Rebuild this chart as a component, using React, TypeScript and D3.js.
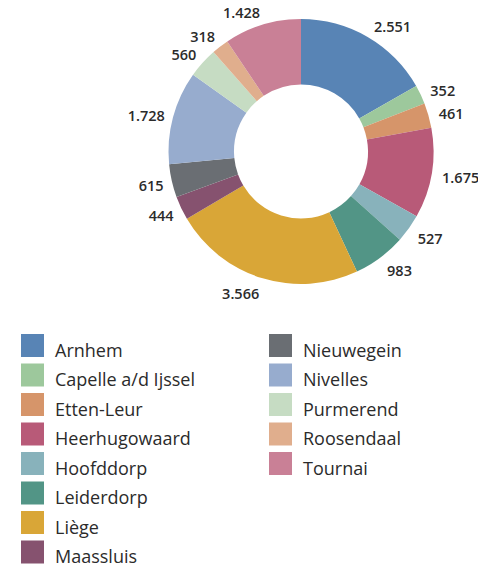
import React from 'react';
import * as d3 from 'd3';

const categories = [
  'Arnhem', 'Capelle a/d Ijssel', 'Etten-Leur', 'Heerhugowaard', 'Hoofddorp', 'Leiderdorp',
  'Liège', 'Maassluis', 'Nieuwegein', 'Nivelles', 'Purmerend', 'Roosendaal', 'Tournai',
];
const values = [2551, 352, 461, 1675, 527, 983, 3566, 444, 615, 1728, 560, 318, 1428];
const colors = [
  '#5884b5', '#9dc89c', '#d6956a', '#b85a78', '#88b2bb', '#529586',
  '#d9a637', '#86526f', '#6a6e73', '#97acce', '#c6dcc3', '#e0ae8d', '#c98096',
];

const W = 478;
const H = 565;
const cx = 301;
const cy = 151.5;
const outerR = 132.5;
const innerR = 67;
const labelR = 141;

// dutch style thousands separator
const fmt = d3.formatLocale({ decimal: ',', thousands: '.', grouping: [3], currency: ['€', ''] }).format(',d');

const App: React.FC = () => {
  const pie = d3.pie<number>().sort(null).value(d => d);
  const arcs = pie(values);
  const arc = d3.arc<d3.PieArcDatum<number>>().innerRadius(innerR).outerRadius(outerR);

  const rowH = 29.5;
  const legendTop = 334;
  const perCol = 8;

  return (
    <svg width={W} height={H} style={{ position: 'absolute', left: 0, top: 0 }}
      fontFamily="'Open Sans', sans-serif">
      <g transform={`translate(${cx},${cy})`}>
        {arcs.map((a, i) => (
          <path key={i} d={arc(a) || ''} fill={colors[i]} />
        ))}
        {arcs.map((a, i) => {
          const mid = (a.startAngle + a.endAngle) / 2;
          const right = mid < Math.PI;
          const x = Math.sin(mid) * labelR + (right ? 2 : 0);
          // labels sit on a slightly taller ellipse
          const y = -Math.cos(mid) * labelR * 1.04 + 2;
          return (
            <text key={i} x={x} y={y} dy="0.35em" fontSize={14.5} fontWeight={600} fill="#2b2b2b"
              textAnchor={right ? 'start' : 'end'}>
              {fmt(values[i])}
            </text>
          );
        })}
      </g>
      <g>
        {categories.map((c, i) => {
          const col = Math.floor(i / perCol);
          const row = i % perCol;
          const x = col === 0 ? 21 : 269;
          const y = legendTop + row * rowH;
          return (
            <g key={c} transform={`translate(${x},${y})`}>
              <rect width={23} height={23} fill={colors[i]} />
              <text x={34} y={22.5} fontSize={18} fill="#2b2b2b">{c}</text>
            </g>
          );
        })}
      </g>
    </svg>
  );
};

export default App;
